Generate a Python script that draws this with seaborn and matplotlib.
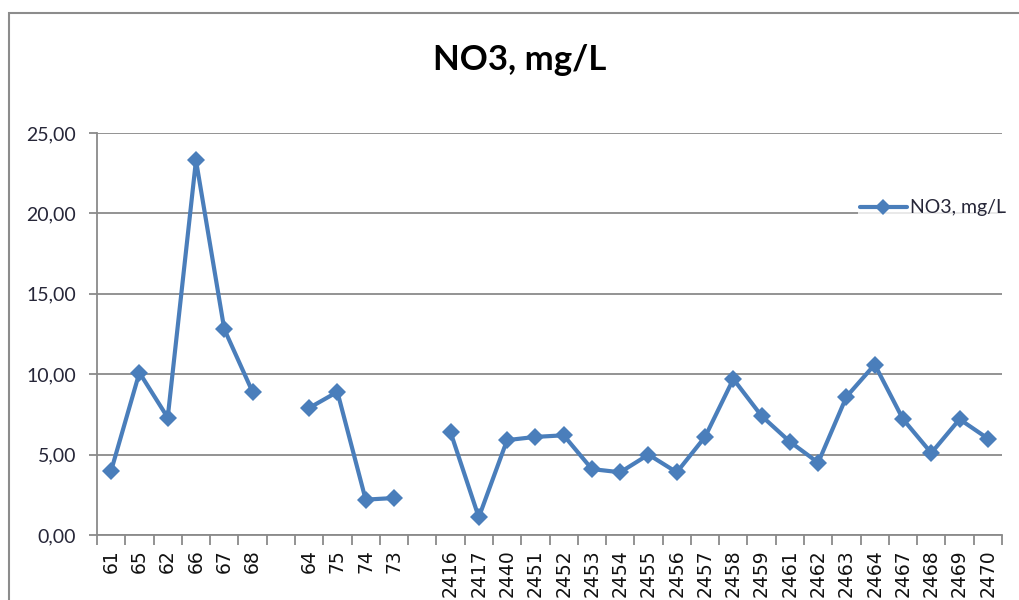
import numpy as np
import pandas as pd
import matplotlib
matplotlib.use("Agg")
import matplotlib.pyplot as plt
import seaborn as sns
from matplotlib.lines import Line2D
from matplotlib.patches import Rectangle
from matplotlib.ticker import FuncFormatter, FixedLocator

# Sampling stations (blank entries separate the three station groups)
stations = ["61", "65", "62", "66", "67", "68", "",
            "64", "75", "74", "73", "",
            "2416", "2417", "2440", "2451", "2452", "2453", "2454", "2455",
            "2456", "2457", "2458", "2459", "2461", "2462", "2463", "2464",
            "2467", "2468", "2469", "2470"]

# Nitrate concentration, mg/L
no3 = [4.0, 10.1, 7.3, 23.3, 12.8, 8.9, np.nan,
       7.9, 8.9, 2.2, 2.3, np.nan,
       6.4, 1.1, 5.9, 6.1, 6.2, 4.1, 3.9, 5.0,
       3.9, 6.1, 9.7, 7.4, 5.8, 4.5, 8.6, 10.6,
       7.2, 5.1, 7.2, 6.0]

y_ticks = [0, 5, 10, 15, 20, 25]
series_name = "NO3, mg/L"

LINE = "#4a7ebb"
GRID = "#8a8a8a"
TXT = "#262638"

sns.set_theme(style="white")
plt.rcParams["font.family"] = ["Lato", "DejaVu Sans"]

df = pd.DataFrame({"pos": np.arange(len(stations)), "no3": no3})
df["group"] = np.cumsum(df["no3"].isna())

fig = plt.figure(figsize=(10.19, 6.0), dpi=100)
ax = fig.add_axes([97 / 1019, 65 / 600, 905 / 1019, 402 / 600])

sns.lineplot(data=df, x="pos", y="no3", units="group", estimator=None,
             color=LINE, linewidth=3.0, marker="D", markersize=9.5,
             markeredgewidth=0, ax=ax, legend=False, zorder=3)

ax.set_xlim(-0.5, len(stations) - 0.5)
ax.set_ylim(0, 25)
ax.set_xlabel("")
ax.set_ylabel("")

# horizontal gridlines
ax.yaxis.set_major_locator(FixedLocator(y_ticks))
ax.grid(axis="y", color=GRID, linewidth=1.3)
ax.grid(axis="x", visible=False)
ax.set_axisbelow(True)
ax.yaxis.set_major_formatter(FuncFormatter(lambda v, _: f"{v:.2f}".replace(".", ",")))
ax.tick_params(axis="y", which="major", length=6, width=1.3, color=GRID,
               labelsize=14, labelcolor=TXT, pad=9, left=True)

# category labels at centres, tick marks at boundaries
ax.set_xticks(df["pos"])
ax.set_xticklabels(stations, rotation=90, fontfamily="DejaVu Sans",
                   fontsize=13.5, color="#111111")
ax.tick_params(axis="x", which="major", length=0, pad=10)
ax.set_xticks(np.arange(len(stations) + 1) - 0.5, minor=True)
ax.tick_params(axis="x", which="minor", length=7, width=1.3, color=GRID,
               bottom=True)

for side in ["top", "right"]:
    ax.spines[side].set_visible(False)
for side in ["left", "bottom"]:
    ax.spines[side].set_color(GRID)
    ax.spines[side].set_linewidth(1.3)

fig.text(520 / 1019, 540 / 600, series_name, ha="center", va="center",
         fontsize=25, fontweight="bold", color="#000000")

handle = Line2D([], [], color=LINE, linewidth=3.0, marker="D",
                markersize=8, markeredgewidth=0)
leg = fig.legend([handle], [series_name], loc="center left",
                 bbox_to_anchor=(858 / 1019, 392 / 600), frameon=True,
                 fontsize=14, handlelength=2.4, handletextpad=0.15,
                 borderpad=0.1, borderaxespad=0)
leg.get_frame().set_facecolor("white")
leg.get_frame().set_edgecolor("white")
leg.get_frame().set_linewidth(0)
for t in leg.get_texts():
    t.set_color(TXT)

# chart area border
fig.patches.append(Rectangle((9 / 1019, -0.1), 1.2, (587 / 600) + 0.1,
                             transform=fig.transFigure, fill=False,
                             edgecolor="#8c8c8c", linewidth=1.5))

fig.savefig("out.png", dpi=100)
